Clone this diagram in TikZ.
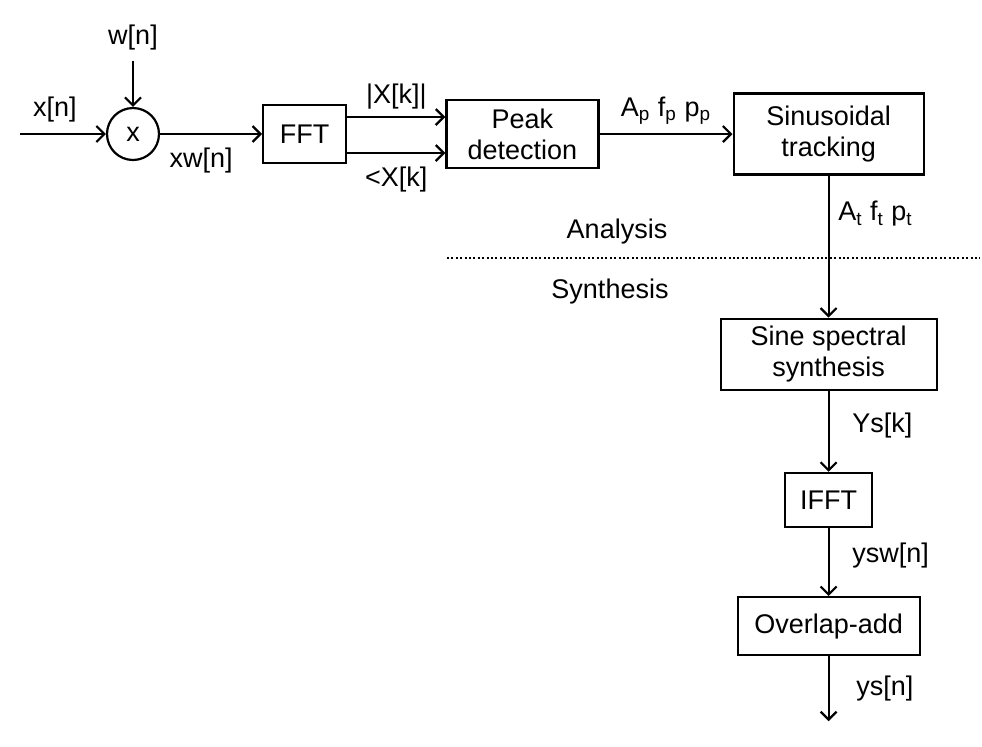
\documentclass[tikz,border=0pt]{standalone}
\usepackage{fontspec}
\setmainfont{Liberation Sans}
\usepackage{tikz}
\usetikzlibrary{positioning}
\usetikzlibrary{arrows.meta}

\begin{document}
\begin{tikzpicture}[
    font=\fontsize{13.5}{15.5}\selectfont,
    box/.style={
        draw,
        rectangle,
        line width=1.1pt,
        align=center,
        inner sep=1pt
    },
    mixer/.style={
        draw,
        circle,
        line width=1.1pt,
        minimum size=26pt,
        inner sep=0pt
    },
    arrow/.style={
        -{Straight Barb[length=4pt,width=8pt]},
        line width=1.1pt
    }
]
    \useasboundingbox (0,0) rectangle (491pt,-373pt);

    % --- Analysis row, left to right ---
    \node[mixer] (mult) at (66.5pt,-67pt) {x};
    \node[box, minimum width=41.5pt, minimum height=29pt, right=51pt of mult] (fft) {FFT};
    \node[box, minimum width=76pt, minimum height=34pt, right=49pt of fft] (peak) {Peak\\detection};
    \node[box, minimum width=95pt, minimum height=40.5pt, right=66.5pt of peak] (track) {Sinusoidal\\tracking};

    % --- Synthesis column, top to bottom ---
    \node[box, minimum width=108pt, minimum height=35.5pt, below=71pt of track] (sine) {Sine spectral\\synthesis};
    \node[box, minimum width=43.5pt, minimum height=27pt, below=40.5pt of sine] (ifft) {IFFT};
    \node[box, minimum width=91pt, minimum height=29pt, below=34pt of ifft] (ola) {Overlap-add};

    % --- Inputs and output ---
    \coordinate (xin) at (10pt,-67pt);
    \node[inner sep=5pt] (win) at (66.5pt,-19pt) {w[n]};
    \coordinate[below=32.5pt of ola] (yout);

    % --- Analysis / synthesis border ---
    \coordinate (sepL) at (223.5pt,-129pt);
    \coordinate (sepR) at (490pt,-129pt);
    \draw[line width=1.1pt, dash pattern=on 1pt off 1.2pt] (sepL) -- (sepR);
    \node (ana) at (308.5pt,-116pt) {Analysis};
    \node (syn) at (305pt,-146pt) {Synthesis};

    % --- Arrows with signal names ---
    \draw[arrow] (xin) -- node[midway, above, xshift=-4pt, yshift=2pt] {x[n]} (mult);
    \draw[arrow] (win) -- (mult);
    \draw[arrow] (mult) -- node[midway, below, xshift=-5pt, yshift=-3pt] {xw[n]} (fft);
    \draw[arrow] ([yshift=8.5pt]fft.east) -- node[midway, above] {|X[k]|} ([yshift=8.5pt]fft.east -| peak.west);
    \draw[arrow] ([yshift=-9.5pt]fft.east) -- node[midway, below, yshift=-3pt] {<X[k]} ([yshift=-9.5pt]fft.east -| peak.west);
    \draw[arrow] (peak) -- node[midway, above, yshift=1pt] {A\textsubscript{p} f\textsubscript{p} p\textsubscript{p}} (track);
    \draw[arrow] (track) -- node[pos=0.27, right, xshift=1pt] {A\textsubscript{t}\ f\textsubscript{t}\ p\textsubscript{t}} (sine);
    \draw[arrow] (sine) -- node[midway, right, xshift=8pt, yshift=3pt] {Ys[k]} (ifft);
    \draw[arrow] (ifft) -- node[midway, right, xshift=8pt, yshift=3pt] {ysw[n]} (ola);
    \draw[arrow] (ola) -- node[midway, right, xshift=10pt] {ys[n]} (yout);
\end{tikzpicture}
\end{document}
